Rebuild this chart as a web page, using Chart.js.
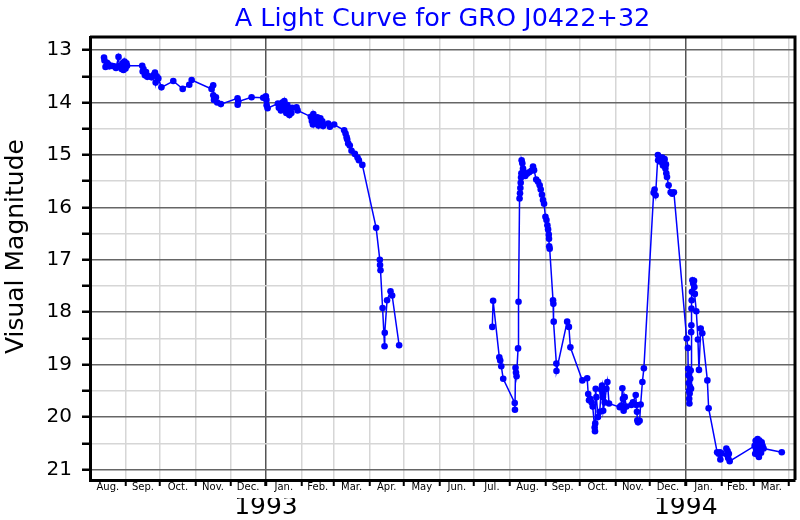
<!DOCTYPE html>
<html>
<head>
<meta charset="utf-8">
<script src="https://cdn.jsdelivr.net/npm/chart.js@4/dist/chart.umd.min.js"></script>
<style>
html,body{margin:0;padding:0;background:#ffffff;}
#wrap{width:800px;height:520px;}
</style>
</head>
<body>
<div id="wrap"><canvas id="c" width="800" height="520"></canvas></div>
<script>
// Observation times: days since 1992-08-01
const obsDay = [
12.2,12.6,13.5,14.8,15.9,16.8,18.9,20.9,22.6,24.8,25.5,27.5,28.7,29.1,30.0,30.9,31.7,32.2,
45.4,45.8,46.5,47.8,48.7,49.8,51.5,53.6,55.6,56.5,57.1,58.0,59.4,62.1,72.4,80.6,86.3,88.4,
105.7,107.1,107.2,107.8,109.5,110.6,113.8,128.3,128.4,128.9,140.5,150.6,152.9,153.4,153.6,154.4,
163.4,164.2,165.1,166.0,167.3,168.1,169.0,169.9,170.7,171.6,172.5,173.4,174.2,175.1,175.8,
179.6,180.5,
192.0,192.9,193.8,194.2,195.1,195.9,196.8,197.7,198.6,199.4,200.3,201.2,202.0,202.7,
207.1,208.6,212.3,221.0,222.2,223.1,223.6,224.5,225.9,227.4,230.3,232.6,233.8,236.8,
248.8,252.0,252.2,252.6,254.4,256.1,256.3,258.3,261.3,262.7,268.8,
300.0,
349.8,350.5,355.9,356.7,357.6,359.3,369.3,369.5,370.0,370.4,370.9,372.2,372.6,
373.5,373.9,374.2,374.5,374.8,375.1,375.3,375.9,376.5,377.1,378.4,380.0,381.9,383.8,385.2,386.1,
388.0,389.6,391.0,391.9,393.0,393.9,394.8,396.0,396.9,397.7,398.3,398.9,399.1,399.3,399.7,
402.6,402.9,403.2,405.5,405.6,414.9,416.4,417.7,
428.1,432.3,433.2,433.9,434.9,436.2,437.1,438.8,439.1,439.3,439.7,440.3,441.7,443.2,444.5,445.2,
445.6,446.0,446.2,447.5,449.0,449.9,451.3,460.6,461.9,462.9,463.4,464.0,464.9,466.4,470.7,472.1,
474.5,475.1,475.6,475.9,476.5,477.9,478.8,480.3,481.6,
490.1,490.9,491.8,493.8,494.0,495.3,496.1,497.0,497.6,498.2,499.0,499.6,500.3,500.8,501.1,501.7,
503.1,504.9,506.3,507.7,
518.8,519.9,520.1,520.4,520.6,520.8,521.0,521.2,521.4,521.7,521.9,522.3,522.6,522.7,522.9,523.0,
523.2,523.4,523.8,524.5,525.2,525.5,525.9,527.2,528.6,529.5,531.0,532.4,536.8,537.9,
545.3,546.6,547.8,548.1,549.0,553.3,553.9,554.4,554.9,555.5,556.2,
577.9,578.4,578.8,579.2,579.7,580.1,580.5,580.8,581.4,581.6,582.2,582.7,583.1,583.5,584.0,584.8,585.7,
601.5
];
// Visual magnitudes (null = no observations, line break)
const visMag = [
13.14,13.20,13.32,13.24,13.27,13.31,13.30,13.31,13.34,13.13,13.30,13.36,13.24,13.38,13.22,13.35,13.25,13.30,
13.30,13.41,13.36,13.48,13.42,13.51,13.50,13.52,13.47,13.43,13.62,13.50,13.54,13.71,13.59,13.74,13.66,13.57,
13.74,13.67,13.86,13.95,13.90,14.00,14.03,13.92,14.04,13.98,13.90,13.91,13.88,13.95,14.05,14.11,
14.02,14.10,14.05,14.15,14.00,14.08,13.97,14.12,14.20,14.05,14.15,14.24,14.12,14.20,14.10,
14.09,14.15,
14.27,14.35,14.42,14.22,14.30,14.40,14.34,14.28,14.44,14.35,14.30,14.40,14.36,14.45,
14.40,14.46,14.42,14.53,14.59,14.66,14.70,14.78,14.82,14.92,14.98,15.05,15.10,15.19,
16.39,17.00,17.10,17.20,17.92,18.65,18.39,17.77,17.60,17.68,18.63,
null,
18.28,17.78,18.86,18.92,19.03,19.27,19.73,19.86,19.06,19.15,19.22,18.69,17.80,
15.83,15.73,15.63,15.53,15.43,15.35,15.10,15.16,15.26,15.32,15.40,15.36,15.33,15.30,15.22,15.29,
15.47,15.51,15.58,15.66,15.76,15.86,15.93,16.18,16.24,16.34,16.42,16.52,16.60,16.74,16.79,
17.77,17.84,18.18,18.98,19.12,18.18,18.28,18.67,
19.30,19.26,19.56,19.68,19.65,19.72,19.80,20.20,20.27,20.12,19.46,19.62,20.00,19.90,19.48,19.40,
19.55,19.62,19.88,19.72,19.46,19.33,19.74,19.81,19.78,19.45,19.65,19.88,19.62,19.80,19.77,19.72,
19.58,19.77,19.90,20.06,20.10,20.07,19.76,19.33,19.07,
15.72,15.66,15.77,15.00,15.10,15.05,15.13,15.08,15.05,15.20,15.10,15.08,15.26,15.18,15.35,15.42,
15.58,15.71,15.74,15.71,
18.50,18.68,19.08,19.20,19.35,19.50,19.65,19.74,19.55,19.42,19.27,19.11,19.46,18.38,18.25,17.93,
17.77,17.61,17.39,17.45,17.40,17.52,17.65,17.98,18.52,19.10,18.31,18.40,19.30,19.83,
20.67,20.70,20.67,20.81,20.70,20.60,20.72,20.65,20.78,20.70,20.84,
20.55,20.70,20.45,20.62,20.50,20.68,20.42,20.72,20.58,20.76,20.45,20.62,20.50,20.68,20.48,20.55,20.60,
20.67
];
// Month boundaries (days since 1992-08-01), month label centres and names
const monthStarts = [31,61,92,122,153,184,212,243,273,304,334,365,396,426,457,487,518,549,577,608];
const monthMids = [15.5,46,76.5,107,137.5,168.5,198,227.5,258,288.5,319,349.5,380.5,411,441.5,472,502.5,533.5,563,592.5];
const monthLabels = ['Aug.','Sep.','Oct.','Nov.','Dec.','Jan.','Feb.','Mar.','Apr.','May','Jun.','Jul.','Aug.','Sep.','Oct.','Nov.','Dec.','Jan.','Feb.','Mar.'];
const yearStarts = [153,518];
const yearLabels = ['1993','1994'];
const magTicks = [13,13.5,14,14.5,15,15.5,16,16.5,17,17.5,18,18.5,19,19.5,20,20.5,21];

const FONT = 'DejaVu Sans';
const points = obsDay.map((d,i)=>({x:d, y:visMag[i]}));
const TRANSP = 'rgba(0,0,0,0)';

const frame = {
  id:'frame',
  afterDraw(chart){
    const a = chart.chartArea, c = chart.ctx;
    c.save();
    c.strokeStyle = '#000'; c.lineWidth = 3;
    c.beginPath();
    c.moveTo(a.left, a.top); c.lineTo(a.right, a.top); c.lineTo(a.right, a.bottom);
    c.stroke();
    c.restore();
  }
};

new Chart(document.getElementById('c'), {
  type:'line',
  data:{ datasets:[{
    data: points,
    borderColor:'#0000ff', backgroundColor:'#0000ff',
    borderWidth:1.5, pointRadius:3.3, pointHoverRadius:3.3, pointBorderWidth:0,
    tension:0, spanGaps:false
  }]},
  options:{
    responsive:false, animation:false,
    layout:{ padding:{left:0, right:5, top:0, bottom:0} },
    plugins:{
      legend:{display:false},
      tooltip:{enabled:false},
      title:{
        display:true, text:'A Light Curve for GRO J0422+32', color:'#0000ff',
        fullSize:false,
        font:{family:FONT, size:25.5, weight:'normal'},
        padding:{top:4, bottom:2.4}
      }
    },
    scales:{
      x:{
        type:'linear', position:'bottom', min:0, max:613,
        afterBuildTicks: s => { s.ticks = monthStarts.concat(monthMids).sort((a,b)=>a-b).map(v=>({value:v})); },
        afterFit: s => { s.height = 18; },
        ticks:{
          autoSkip:false, maxRotation:0, minRotation:0, padding:-5,
          color:'#000', font:{family:FONT, size:10},
          callback: v => { const i = monthMids.indexOf(v); return i >= 0 ? monthLabels[i] : ''; }
        },
        grid:{
          color: ctx => { const v = ctx.tick && ctx.tick.value; return yearStarts.includes(v) ? '#555555' : (monthStarts.includes(v) ? '#d6d6d6' : TRANSP); },
          lineWidth:1.5,
          tickColor: ctx => { const v = ctx.tick && ctx.tick.value; return monthStarts.includes(v) ? '#000' : TRANSP; },
          tickWidth: ctx => { const v = ctx.tick && ctx.tick.value; return yearStarts.includes(v) ? 3 : 2; },
          tickLength:6, drawTicks:true
        },
        border:{display:true, color:'#000', width:3}
      },
      xYear:{
        type:'linear', position:'bottom', min:0, max:613,
        afterBuildTicks: s => { s.ticks = yearStarts.map(v=>({value:v})); },
        afterFit: s => { s.height = 22; },
        ticks:{
          autoSkip:false, maxRotation:0, minRotation:0, padding:-6,
          color:'#000', font:{family:FONT, size:25},
          callback: v => { const i = yearStarts.indexOf(v); return i >= 0 ? yearLabels[i] : ''; }
        },
        grid:{display:false, drawTicks:false},
        border:{display:false}
      },
      y:{
        type:'linear', position:'left', reverse:true, min:12.75, max:21.2,
        afterBuildTicks: s => { s.ticks = magTicks.map(v=>({value:v})); },
        afterFit: s => { s.width = 90; },
        ticks:{
          padding:10, color:'#000', font:{family:FONT, size:20},
          callback: v => Number.isInteger(v) ? String(v) : ''
        },
        grid:{
          color: ctx => { const v = ctx.tick && ctx.tick.value; return Number.isInteger(v) ? '#666666' : '#d6d6d6'; },
          lineWidth:1.5,
          tickColor:'#000', tickWidth:2.5, tickLength:8
        },
        border:{display:true, color:'#000', width:3},
        title:{
          display:true, text:'   Visual Magnitude', color:'#000',
          font:{family:FONT, size:25, weight:'normal'},
          padding:{top:1.5, bottom:0}
        }
      }
    }
  },
  plugins:[frame]
});
</script>
</body>
</html>
